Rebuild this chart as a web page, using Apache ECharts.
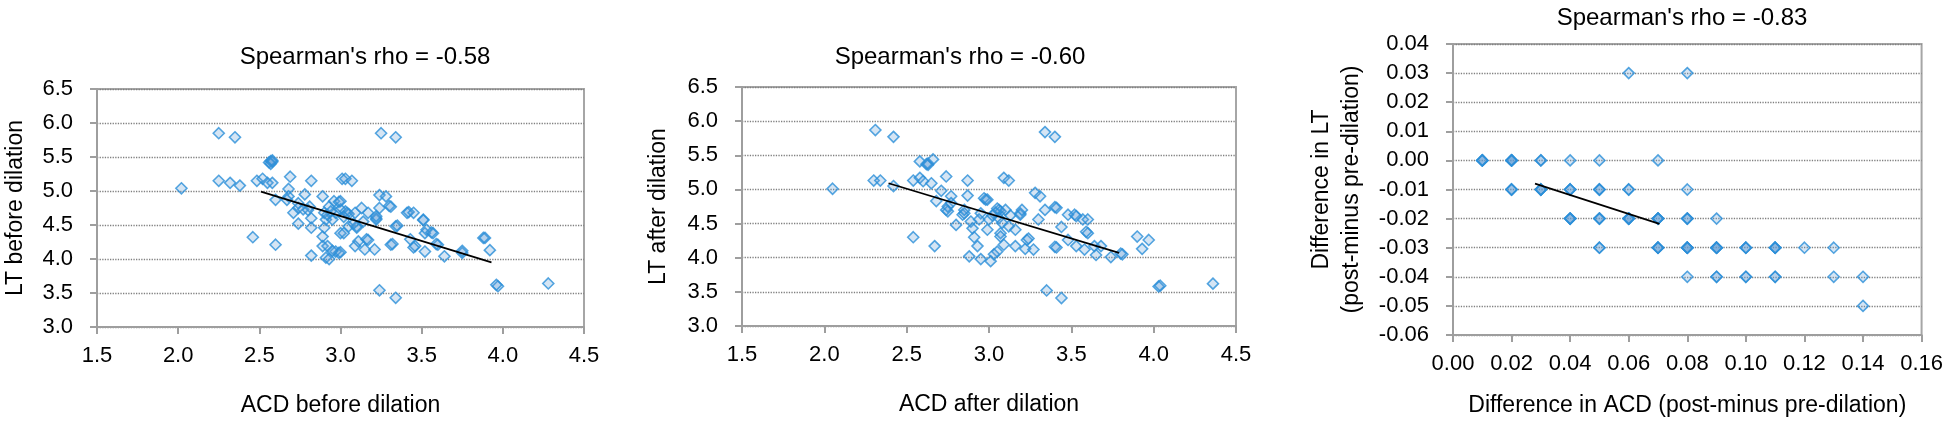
<!DOCTYPE html>
<html>
<head>
<meta charset="utf-8">
<script src="https://cdn.jsdelivr.net/npm/echarts@6/dist/echarts.min.js"></script>
<style>
html,body{margin:0;padding:0;background:#fff;}
#c{width:1946px;height:426px;}
</style>
</head>
<body>
<div id="c"></div>
<script>
// ---- Panel 1: before dilation ----
const acdBefore = [2.02,2.25,2.35,2.25,2.32,2.38,2.46,2.485,2.52,2.55,2.58,
  2.56,2.57,2.58,2.57,2.58,
  2.60,2.60,2.69,2.68,2.68,2.67,2.71,2.74,2.74,2.74,2.78,2.77,2.81,2.80,2.82,2.82,2.82,2.82,2.89,2.90,2.91,2.89,2.89,2.92,2.90,2.91,2.93,2.93,2.96,2.95,2.97,2.97,2.99,3.00,3.00,3.01,3.00,2.92,2.94,2.95,2.99,
  3.25,3.34,3.24,3.34,3.03,3.07,3.00,3.04,3.03,3.05,3.02,3.09,3.13,3.17,3.02,3.05,3.10,3.10,3.09,3.11,3.16,3.17,3.15,3.21,3.22,3.22,3.22,3.24,3.28,3.24,3.30,3.31,3.34,3.35,3.31,3.32,3.41,3.42,3.45,3.43,3.46,3.45,3.51,3.51,3.52,3.53,3.52,3.57,3.56,3.60,3.59,3.64,3.75,3.75,3.88,3.89,3.92,3.97,3.96,4.28,3.14,3.08];
const ltBefore = [5.04,5.85,5.79,5.15,5.12,5.08,4.32,5.15,5.18,5.12,5.12,
  5.42,5.44,5.43,5.40,5.45,
  4.21,4.87,5.21,5.03,4.92,4.87,4.68,4.82,4.75,4.52,4.95,4.73,4.77,4.72,5.15,4.60,4.46,4.05,4.92,4.68,4.58,4.33,4.19,4.19,4.46,4.02,4.00,4.77,4.85,4.58,4.68,4.11,4.09,4.10,4.73,5.18,4.38,4.65,4.70,4.12,4.84,
  5.85,5.79,3.54,3.43,5.18,5.15,4.85,4.68,4.70,4.66,4.62,4.68,4.75,4.68,4.38,4.48,4.46,4.48,4.19,4.26,4.29,4.28,4.14,4.14,4.58,4.60,4.63,4.94,4.92,4.75,4.78,4.77,4.48,4.49,4.21,4.22,4.68,4.69,4.68,4.29,4.19,4.17,4.58,4.57,4.38,4.43,4.11,4.38,4.39,4.21,4.22,4.04,4.09,4.12,4.31,4.31,4.13,3.60,3.62,3.64,4.55,4.52];
const fitBeforeX = [2.51, 3.93];
const fitBeforeY = [4.99, 3.95];

// ---- Panel 2: after dilation ----
const acdAfter = [2.31,2.42,2.05,2.30,2.34,2.42,2.54,2.58,2.58,2.60,2.62,2.63,2.63,2.66,2.65,2.54,2.67,2.68,2.71,2.74,2.74,2.75,2.75,2.77,2.77,2.80,2.84,2.85,2.85,2.87,2.87,2.88,2.89,2.90,2.91,2.93,2.95,2.95,2.97,2.98,3.01,2.94,2.99,
  3.34,3.40,3.35,3.44,3.09,3.12,2.99,3.06,3.05,3.07,3.04,3.10,3.00,3.06,3.08,3.12,3.16,3.07,3.07,3.09,3.05,3.03,3.16,3.19,3.19,3.20,3.23,3.24,3.22,3.27,3.28,3.31,3.30,3.34,3.40,3.41,3.44,3.40,3.41,3.48,3.48,3.52,3.53,3.53,3.58,3.57,3.60,3.60,3.59,3.64,3.65,3.68,3.74,3.80,3.81,3.90,3.93,3.97,4.03,4.04,4.36,3.13,3.02];
const ltAfter = [5.87,5.77,5.01,5.13,5.13,5.05,5.13,5.41,5.17,5.12,5.37,5.36,5.38,5.44,5.09,4.30,4.17,4.83,4.98,5.19,4.70,4.68,4.75,4.90,4.80,4.48,4.63,4.65,4.70,4.91,5.13,4.02,4.53,4.43,4.30,4.17,3.98,4.65,4.87,4.85,3.95,4.56,4.41,
  5.84,5.77,3.52,3.41,5.17,5.13,4.85,4.70,4.72,4.68,4.66,4.70,4.56,4.58,4.51,4.46,4.41,4.36,4.31,4.19,4.09,4.05,4.17,4.65,4.63,4.70,4.26,4.28,4.13,4.12,4.95,4.90,4.56,4.70,4.74,4.73,4.45,4.16,4.15,4.26,4.63,4.63,4.61,4.17,4.12,4.56,4.56,4.36,4.38,4.17,4.04,4.17,4.01,4.06,4.05,4.31,4.13,4.26,3.58,3.59,3.62,4.62,4.62];
const fitAfterX = [2.39, 3.79];
const fitAfterY = [5.09, 4.07];

// ---- Panel 3: differences (repeated values = overlapping eyes) ----
const diffACD = [0.01,0.01,0.01,0.01, 0.02,0.02,0.02,0.02,0.02, 0.03,0.03, 0.04, 0.05, 0.07,
  0.02,0.02,0.02, 0.03,0.03,0.03,0.03, 0.04,0.04,0.04, 0.05,0.05,0.05, 0.06,0.06, 0.08,
  0.04,0.04,0.04,0.04, 0.05,0.05,0.05, 0.06,0.06,0.06,0.06,0.06, 0.07,0.07,0.07,0.07, 0.08,0.08,0.08, 0.09,
  0.05,0.05, 0.07,0.07,0.07,0.07, 0.08,0.08,0.08,0.08,0.08, 0.09,0.09,0.09,0.09,0.09, 0.10,0.10,0.10, 0.11,0.11,0.11,0.11, 0.12, 0.13,
  0.08, 0.09,0.09, 0.10,0.10, 0.11,0.11, 0.13, 0.14,
  0.14,
  0.06, 0.08];
const diffLT = [0,0,0,0, 0,0,0,0,0, 0,0, 0, 0, 0,
  -0.01,-0.01,-0.01, -0.01,-0.01,-0.01,-0.01, -0.01,-0.01,-0.01, -0.01,-0.01,-0.01, -0.01,-0.01, -0.01,
  -0.02,-0.02,-0.02,-0.02, -0.02,-0.02,-0.02, -0.02,-0.02,-0.02,-0.02,-0.02, -0.02,-0.02,-0.02,-0.02, -0.02,-0.02,-0.02, -0.02,
  -0.03,-0.03, -0.03,-0.03,-0.03,-0.03, -0.03,-0.03,-0.03,-0.03,-0.03, -0.03,-0.03,-0.03,-0.03,-0.03, -0.03,-0.03,-0.03, -0.03,-0.03,-0.03,-0.03, -0.03, -0.03,
  -0.04, -0.04,-0.04, -0.04,-0.04, -0.04,-0.04, -0.04, -0.04,
  -0.05,
  0.03, 0.03];
const fitDiffX = [0.028, 0.0705];
const fitDiffY = [-0.008, -0.0218];

const titles = ["Spearman's rho = -0.58", "Spearman's rho = -0.60", "Spearman's rho = -0.83"];
const xNames = ["ACD before dilation", "ACD after dilation", "Difference in ACD (post-minus pre-dilation)"];
const yNames = ["LT before dilation", "LT after dilation", "Difference in LT\n(post-minus pre-dilation)"];

const FONT = "'Liberation Sans', Arial, sans-serif";
const zip = (a, b) => a.map((v, i) => [v, b[i]]);

const markerStyle = {
  color: 'rgba(91,155,213,0.32)',
  borderColor: '#2b8fd8',
  borderWidth: 1.6
};

function axisCommon(isY) {
  return {
    axisLine: { show: true, onZero: false, lineStyle: { color: '#9e9e9e', width: 2 } },
    axisTick: { show: true, length: 7, inside: false, lineStyle: { color: '#9e9e9e', width: 2 } },
    axisLabel: { color: '#000', fontSize: 22, fontFamily: FONT, margin: isY ? 24 : 18 },
    splitLine: isY ? { show: true, lineStyle: { color: '#808080', type: 'dotted', width: 1.3 } } : { show: false },
    nameLocation: 'middle',
    nameTextStyle: { color: '#000', fontSize: 23, fontFamily: FONT, lineHeight: 30 }
  };
}
const f1 = v => v.toFixed(1);
const f2 = v => (Math.abs(v) < 1e-9 ? '0.00' : v.toFixed(2));

const grids = [
  { left: 89, top: 89, width: 495, height: 239 },
  { left: 742, top: 87, width: 494, height: 239 },
  { left: 1453, top: 44, width: 473, height: 299 }
].map(g => Object.assign(g, { show: true, borderColor: '#a6a6a6', borderWidth: 2, backgroundColor: 'transparent' }));

const xAxes = [
  Object.assign(axisCommon(false), { gridIndex: 0, type: 'value', min: 1.5, max: 4.5, interval: 0.5, name: xNames[0], nameGap: 64, axisLabel: Object.assign(axisCommon(false).axisLabel, { formatter: f1 }) }),
  Object.assign(axisCommon(false), { gridIndex: 1, type: 'value', min: 1.5, max: 4.5, interval: 0.5, name: xNames[1], nameGap: 64, axisLabel: Object.assign(axisCommon(false).axisLabel, { formatter: f1 }) }),
  Object.assign(axisCommon(false), { gridIndex: 2, type: 'value', min: 0, max: 0.16, interval: 0.02, name: xNames[2], nameGap: 56, axisLabel: Object.assign(axisCommon(false).axisLabel, { formatter: f2 }) })
];
const yAxes = [
  Object.assign(axisCommon(true), { gridIndex: 0, type: 'value', min: 3, max: 6.5, interval: 0.5, name: yNames[0], nameGap: 66, axisLabel: Object.assign(axisCommon(true).axisLabel, { formatter: f1 }) }),
  Object.assign(axisCommon(true), { gridIndex: 1, type: 'value', min: 3, max: 6.5, interval: 0.5, name: yNames[1], nameGap: 68, axisLabel: Object.assign(axisCommon(true).axisLabel, { formatter: f1 }) }),
  Object.assign(axisCommon(true), { gridIndex: 2, type: 'value', min: -0.06, max: 0.04, interval: 0.01, name: yNames[2], nameGap: 86, axisLabel: Object.assign(axisCommon(true).axisLabel, { formatter: f2 }) })
];

function scatter(i, xs, ys) {
  return { type: 'scatter', xAxisIndex: i, yAxisIndex: i, data: zip(xs, ys), symbol: 'diamond', symbolSize: 11, itemStyle: markerStyle, z: 2, silent: true };
}
function fit(i, xs, ys) {
  return { type: 'line', xAxisIndex: i, yAxisIndex: i, data: zip(xs, ys), showSymbol: false, symbol: 'none', lineStyle: { color: '#000', width: 1.7 }, z: 5, silent: true };
}

const chart = echarts.init(document.getElementById('c'), null, { renderer: 'canvas' });
chart.setOption({
  animation: false,
  backgroundColor: '#fff',
  title: [
    { text: titles[0], left: 360, top: 40, textAlign: 'center' },
    { text: titles[1], left: 955, top: 40, textAlign: 'center' },
    { text: titles[2], left: 1677, top: 1, textAlign: 'center' }
  ].map(t => Object.assign(t, { textStyle: { color: '#000', fontSize: 24, fontWeight: 'normal', fontFamily: FONT } })),
  grid: grids,
  xAxis: xAxes,
  yAxis: yAxes,
  series: [
    scatter(0, acdBefore, ltBefore), fit(0, fitBeforeX, fitBeforeY),
    scatter(1, acdAfter, ltAfter), fit(1, fitAfterX, fitAfterY),
    scatter(2, diffACD, diffLT), fit(2, fitDiffX, fitDiffY)
  ]
});
</script>
</body>
</html>
